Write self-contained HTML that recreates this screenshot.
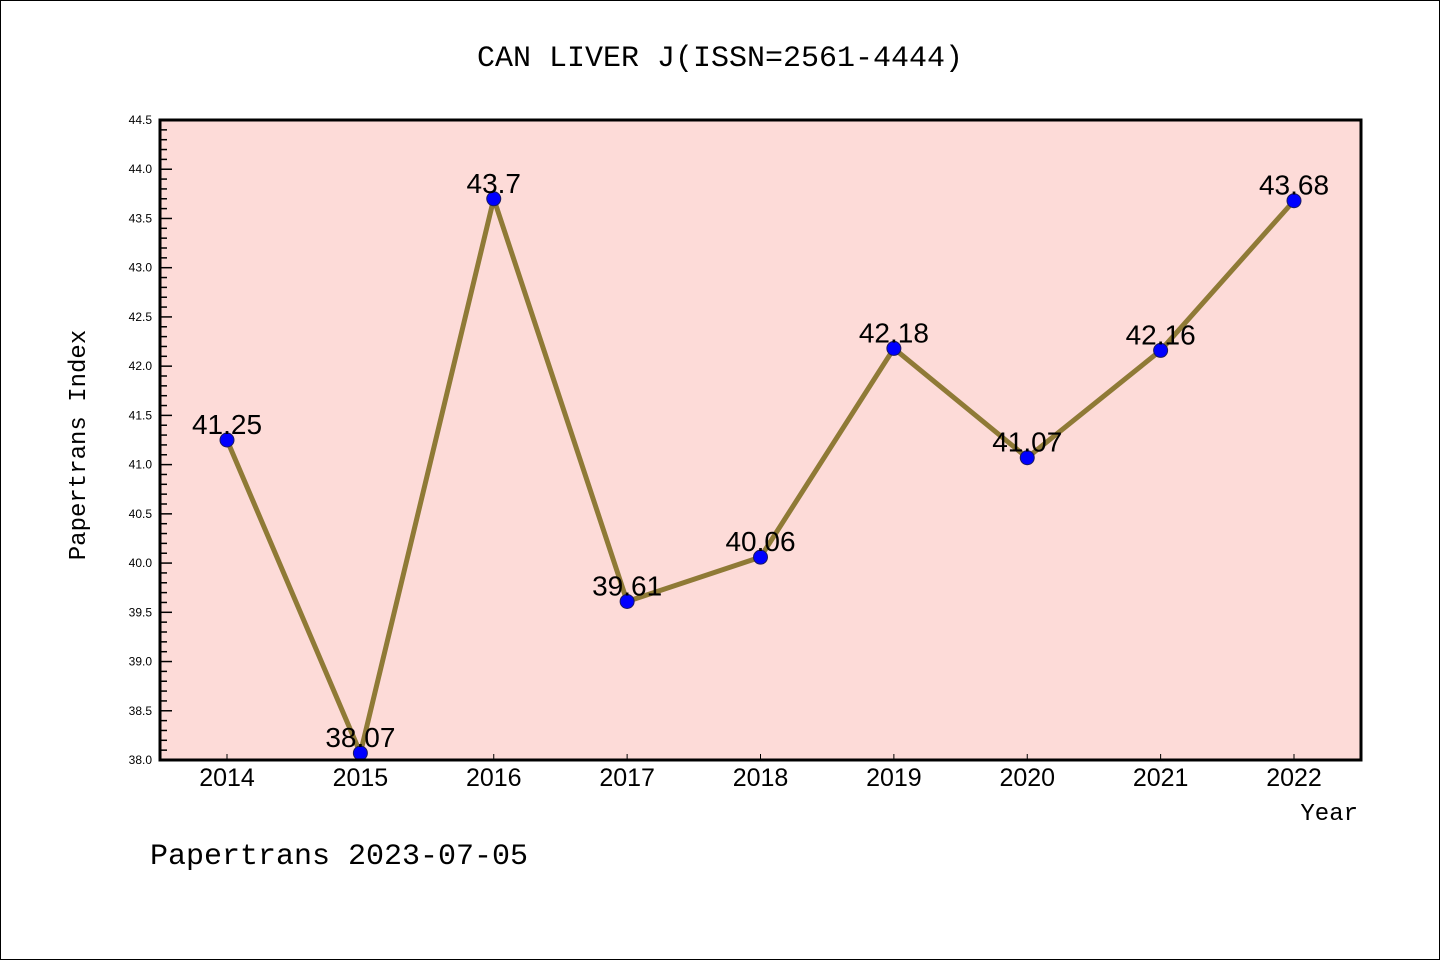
<!DOCTYPE html>
<html><head><meta charset="utf-8"><style>
body{margin:0;background:#fff;}
svg{display:block;font-family:"Liberation Mono","DejaVu Sans Mono",monospace;}
</style></head><body>
<svg width="1440" height="960">
<rect x="0.5" y="0.5" width="1439" height="959" fill="#fff" stroke="#000"/>
<text x="720" y="66" text-anchor="middle" font-size="30">CAN LIVER J(ISSN=2561-4444)</text>
<rect x="160" y="120" width="1201" height="640" fill="#fddbd8"/>
<g id="axes"></g>
<g id="marks"></g>
<rect x="160" y="120" width="1201" height="640" fill="none" stroke="#000" stroke-width="3"/>
<text x="85" y="445" text-anchor="middle" font-size="24" transform="rotate(-90 85 445)">Papertrans Index</text>
<text x="1358" y="820" text-anchor="end" font-size="24">Year</text>
<text x="150" y="864" font-size="30">Papertrans 2023-07-05</text>
</svg>
<script>
const years=["2014","2015","2016","2017","2018","2019","2020","2021","2022"];
const values=[41.25,38.07,43.7,39.61,40.06,42.18,41.07,42.16,43.68];
const labels=["41.25","38.07","43.7","39.61","40.06","42.18","41.07","42.16","43.68"];
const yTicks=["38.0","38.5","39.0","39.5","40.0","40.5","41.0","41.5","42.0","42.5","43.0","43.5","44.0","44.5"];
const NS="http://www.w3.org/2000/svg";
function X(i){return 227+i*(1294-227)/8;}
function Y(v){return 760-(v-38)*640/6.5;}
function mk(tag,attrs,parent){const e=document.createElementNS(NS,tag);for(const k in attrs)e.setAttribute(k,attrs[k]);parent.appendChild(e);return e;}
const ax=document.getElementById('axes'),mg=document.getElementById('marks');
for(let k=0;k<=65;k++){const v=38+k*0.1;const y=Y(v);const major=k%5==0;
 const t=mk('line',{x1:160,x2:160+(major?12:7),y1:y,y2:y,stroke:'#000','stroke-width':1.5},ax);
 
 }
yTicks.forEach(s=>{const t=mk('text',{x:152,y:Y(parseFloat(s))+4,'text-anchor':'end','font-size':12,'font-family':'"Liberation Sans",sans-serif'},ax);t.textContent=s;
 
 });
years.forEach((yr,i)=>{const l=mk('line',{x1:X(i),x2:X(i),y1:760,y2:754,stroke:'#000','stroke-width':1},ax);
 
 
 const t=mk('text',{x:X(i),y:786,'text-anchor':'middle','font-size':25,'font-family':'"Liberation Sans",sans-serif'},ax);t.textContent=yr;
 
 });
const pl=mk('polyline',{points:values.map((v,i)=>X(i)+','+Y(v)).join(' '),fill:'none',stroke:'#8f7a36','stroke-width':5,'stroke-linejoin':'round'},mg);


values.forEach((v,i)=>{const c=mk('circle',{cx:X(i),cy:Y(v),r:7,fill:'#0000ff',stroke:'#1a1a60','stroke-width':1},mg);
 
 
 const t=mk('text',{x:X(i),y:Y(v)-6,'text-anchor':'middle','font-size':28,'font-family':'"Liberation Sans",sans-serif'},mg);t.textContent=labels[i];
 
 });
</script>
</body></html>
